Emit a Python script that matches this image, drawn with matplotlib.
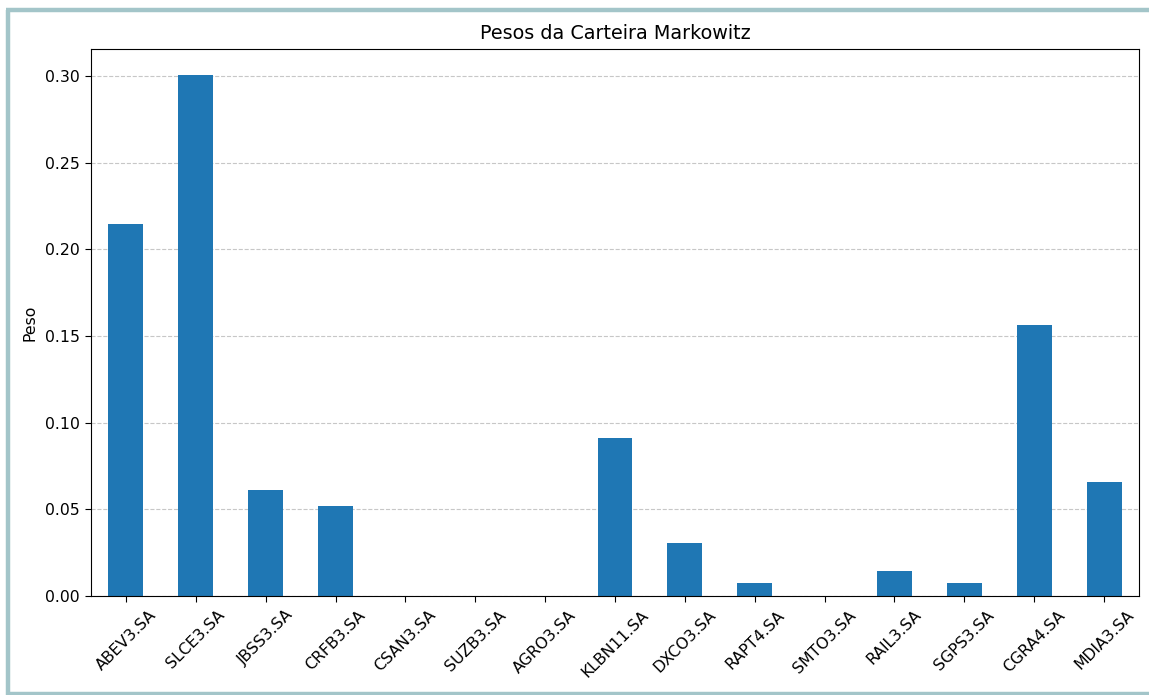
import matplotlib.pyplot as plt
from matplotlib.lines import Line2D

tickers = ["ABEV3.SA", "SLCE3.SA", "JBSS3.SA", "CRFB3.SA", "CSAN3.SA",
           "SUZB3.SA", "AGRO3.SA", "KLBN11.SA", "DXCO3.SA", "RAPT4.SA",
           "SMTO3.SA", "RAIL3.SA", "SGPS3.SA", "CGRA4.SA", "MDIA3.SA"]
pesos = [0.2145, 0.3006, 0.0613, 0.0520, 0.0, 0.0, 0.0, 0.0913, 0.0306,
         0.0075, 0.0, 0.0145, 0.0075, 0.1566, 0.0659]

fig = plt.figure(figsize=(11.49, 6.95), dpi=100)
ax = fig.add_axes([91/1149, 1 - 596/695, (1139 - 91)/1149, (596 - 49)/695])

x = range(len(tickers))
ax.bar(x, pesos, width=0.5, color="#1f77b4")
ax.set_xlim(-0.5, len(tickers) - 0.5)
ax.set_xticks(list(x))
ax.set_xticklabels(tickers, rotation=45)
ax.tick_params(labelsize=11.3, length=4.2, pad=4)
ax.set_title("Pesos da Carteira Markowitz", fontsize=13.8, pad=7)
ax.set_ylabel("Peso", fontsize=11.3, labelpad=5)
ax.grid(axis="y", linestyle="--", alpha=0.7)
ax.set_axisbelow(True)

# moldura da captura
borda = "#a3c5c9"
W, H = 1149, 695
fig.add_artist(Line2D([8/W, 8/W], [0, 1 - 10/H], color=borda, linewidth=3.2,
                      transform=fig.transFigure, solid_capstyle="butt"))
fig.add_artist(Line2D([6/W, 1], [1 - 10/H, 1 - 10/H], color=borda, linewidth=3.2,
                      transform=fig.transFigure, solid_capstyle="butt"))
fig.add_artist(Line2D([6/W, 1], [1 - 694/H, 1 - 694/H], color=borda, linewidth=3.2,
                      transform=fig.transFigure, solid_capstyle="butt"))

fig.savefig("out.png", dpi=100)
